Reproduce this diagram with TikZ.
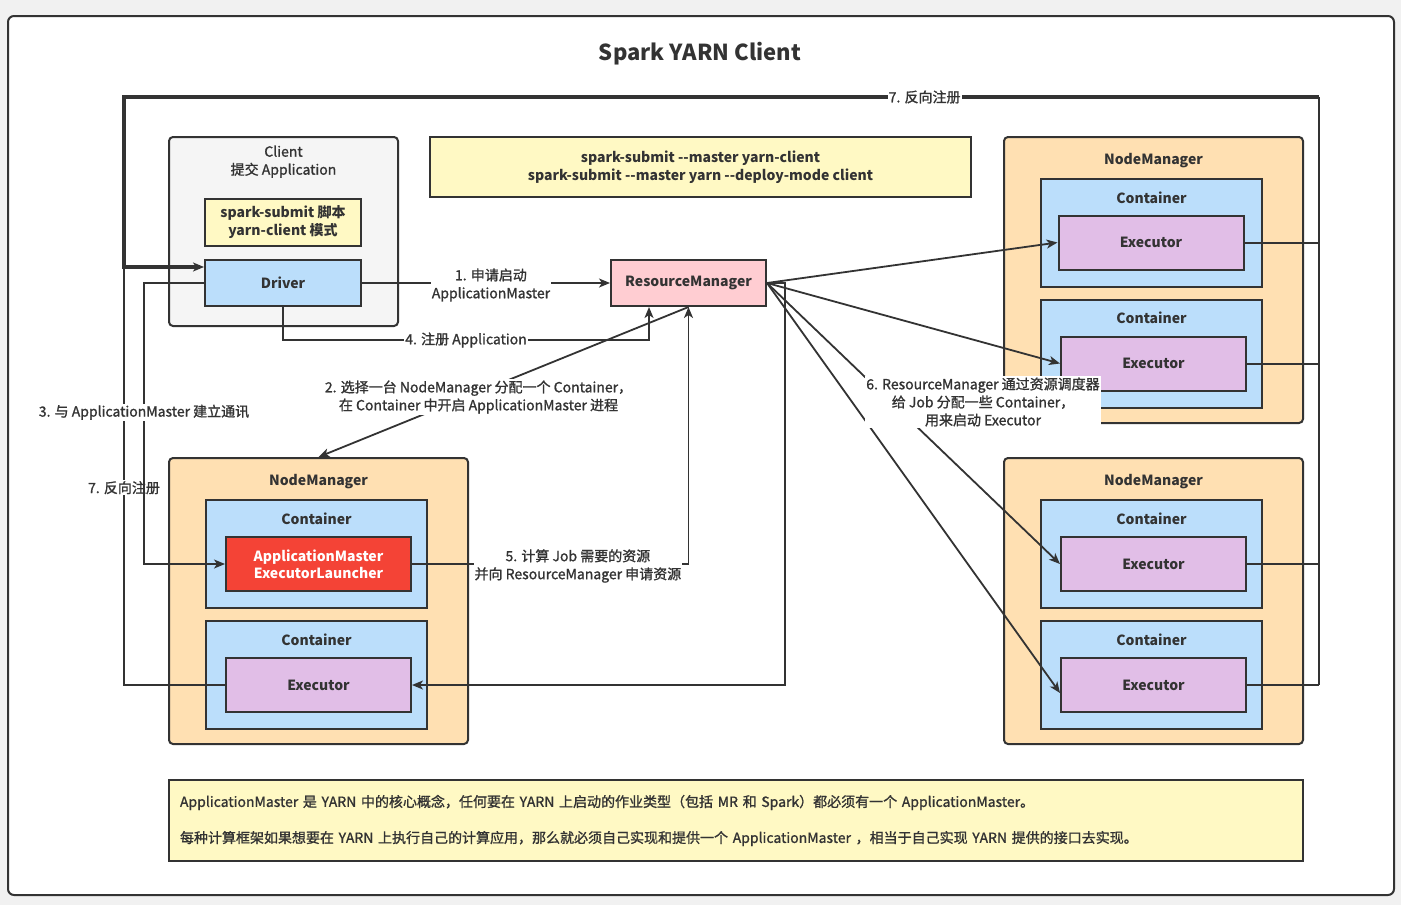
\documentclass[tikz,border=0pt]{standalone}
\usepackage{fontspec}
\setmainfont{Noto Sans CJK SC}
\newfontfamily\medfont{Noto Sans CJK SC}[FakeBold=1.2]
\usetikzlibrary{arrows.meta}

\definecolor{linec}{HTML}{333333}
\definecolor{txt}{HTML}{333333}
\definecolor{bgc}{HTML}{F1F1F1}
\definecolor{clientfill}{HTML}{F5F5F5}
\definecolor{yellowf}{HTML}{FFF9C4}
\definecolor{contfill}{HTML}{BBDEFB}
\definecolor{rmfill}{HTML}{FFCDD2}
\definecolor{nmfill}{HTML}{FFE0B2}
\definecolor{execfill}{HTML}{E1BEE7}
\definecolor{amfill}{HTML}{F44336}

\begin{document}
\begin{tikzpicture}[x=1pt, y=-1pt,
    every node/.style={text=txt, font=\medfont\fontsize{14}{18}\selectfont},
    box/.style={draw=linec, line width=2pt, inner sep=0pt, font=\normalfont\fontsize{14}{18}\selectfont\bfseries},
    nm/.style={box, rounded corners=4pt, fill=nmfill, minimum width=299pt, minimum height=286pt,
        label={[anchor=north, yshift=-14pt, font=\normalfont\fontsize{14}{18}\selectfont\bfseries]north:NodeManager}},
    cont/.style={box, fill=contfill, minimum width=221pt, minimum height=108pt,
        label={[anchor=north, yshift=-10pt, font=\normalfont\fontsize{14}{18}\selectfont\bfseries]north:Container}},
    exec/.style={box, fill=execfill, minimum width=185pt, minimum height=54pt},
    conn/.style={draw=linec, line width=1.8pt, -{Stealth[length=11pt, width=9pt, inset=3pt]}},
    bus/.style={draw=linec, line width=2pt},
    lbl/.style={fill=white, inner sep=1pt, align=center}
]

    % Background and frame
    \fill[bgc] (0,0) rectangle (1401,905);
    \draw[linec, line width=2pt, fill=white, rounded corners=6pt] (8,16) rectangle (1394,895);
    \node[font=\normalfont\fontsize{22}{26}\selectfont\bfseries] (title) at (700,54) {Spark YARN Client};

    % Client side
    \node[box, rounded corners=4pt, fill=clientfill, minimum width=229pt, minimum height=189pt,
        label={[anchor=north, yshift=-6pt, align=center]north:Client\\提交 Application}] (client) at (283.5,231.5) {};
    \node[box, fill=yellowf, minimum width=156pt, minimum height=47pt, align=center] (ss) at (283,222.5) {spark-submit 脚本\\yarn-client 模式};
    \node[box, fill=contfill, minimum width=156pt, minimum height=46pt] (drv) at (283,283) {Driver};

    \node[box, fill=yellowf, minimum width=541pt, minimum height=60pt, align=center] (cmd) at (700.5,167)
        {spark-submit -{}-master yarn-client\\spark-submit -{}-master yarn -{}-deploy-mode client};
    \node[box, fill=rmfill, minimum width=155pt, minimum height=46pt] (rm) at (688.5,283) {ResourceManager};

    % Right NodeManagers
    \node[nm] (nmr1) at (1153.5,280) {};
    \node[cont] (cr1) at (1151.5,233) {};
    \node[exec] (exr1) at (1151,242.5) {Executor};
    \node[cont] (cr2) at (1151.5,353.5) {};
    \node[exec] (exr2) at (1153.5,363.5) {Executor};

    \node[nm] (nmr2) at (1153.5,601) {};
    \node[cont] (cr3) at (1151.5,554) {};
    \node[exec] (exr3) at (1153.5,564) {Executor};
    \node[cont] (cr4) at (1151.5,675) {};
    \node[exec] (exr4) at (1153.5,685) {Executor};

    % Left NodeManager
    \node[nm] (nml) at (318.5,601) {};
    \node[cont] (cl1) at (316.5,554) {};
    \node[exec, fill=amfill, text=white, align=center, font=\normalfont\fontsize{14}{17}\selectfont\bfseries] (am) at (318.5,564) {ApplicationMaster\\ExecutorLauncher};
    \node[cont] (cl2) at (316.5,675) {};
    \node[exec] (exl) at (318.5,685) {Executor};

    % Note
    \node[box, fill=yellowf, minimum width=1134pt, minimum height=81pt, text width=1112pt, align=left,
        font=\medfont\fontsize{14}{18}\selectfont] (note) at (736,820.5)
        {ApplicationMaster 是 YARN 中的核心概念，任何要在 YARN 上启动的作业类型（包括 MR 和 Spark）都必须有一个 ApplicationMaster。\\[18pt]
         每种计算框架如果想要在 YARN 上执行自己的计算应用，那么就必须自己实现和提供一个 ApplicationMaster ，相当于自己实现 YARN 提供的接口去实现。};

    \coordinate (busr) at (1319,97);
    \coordinate (busl) at (124,97);

    % Steps 1 - 5
    \draw[conn] (drv.east) -- node[lbl, pos=0.52, yshift=-2pt] {1. 申请启动\\ApplicationMaster} (rm.west);
    \draw[conn] (rm.south) -- node[lbl, pos=0.6, xshift=12pt] {2. 选择一台 NodeManager 分配一个 Container，\\在 Container 中开启 ApplicationMaster 进程} (nml.north);
    \draw[bus] (exl.west) -| node[lbl, pos=0.736] {7. 反向注册} ([yshift=16pt]drv.west -| busl);
    \draw[conn] (drv.west) -| node[lbl, pos=0.73] {3. 与 ApplicationMaster 建立通讯} ([xshift=-81pt]am.west) -- (am.west);
    \draw[conn] (drv.south) |- node[lbl, pos=0.75] {4. 注册 Application} ([xshift=39pt, yshift=-33pt]rm.south west) -- ([xshift=39pt]rm.south west);
    \draw[conn] (am.east) -| node[lbl, pos=0.3, yshift=-2pt] {5. 计算 Job 需要的资源\\并向 ResourceManager 申请资源} (rm.south);

    % Step 6
    \draw[conn] (rm.east) -- (exr1.west);
    \draw[conn] (rm.east) -- (exr2.west);
    \draw[conn] (rm.east) -- (exr3.west);
    \draw[conn] (rm.east) -- ([yshift=-8pt]exr4.west);
    \draw[conn] (rm.east) -- ++(18,0) |- (exl.east);

    % Step 7
    \draw[bus] (exr1.east) -- (exr1.east -| busr);
    \draw[bus] (exr2.east) -- (exr2.east -| busr);
    \draw[bus] (exr3.east) -- (exr3.east -| busr);
    \draw[bus] (exr4.east) -- (exr4.east -| busr);
    \draw[bus] (busr) -- (exr4.east -| busr);
    \draw[conn, line width=3.5pt] (busr) -- node[lbl, pos=0.33] {7. 反向注册} (busl) |- ([yshift=16pt]drv.west);

    \node[lbl] (lbl6) at (983,402) {6. ResourceManager 通过资源调度器\\给 Job 分配一些 Container，\\用来启动 Executor};

\end{tikzpicture}
\end{document}
